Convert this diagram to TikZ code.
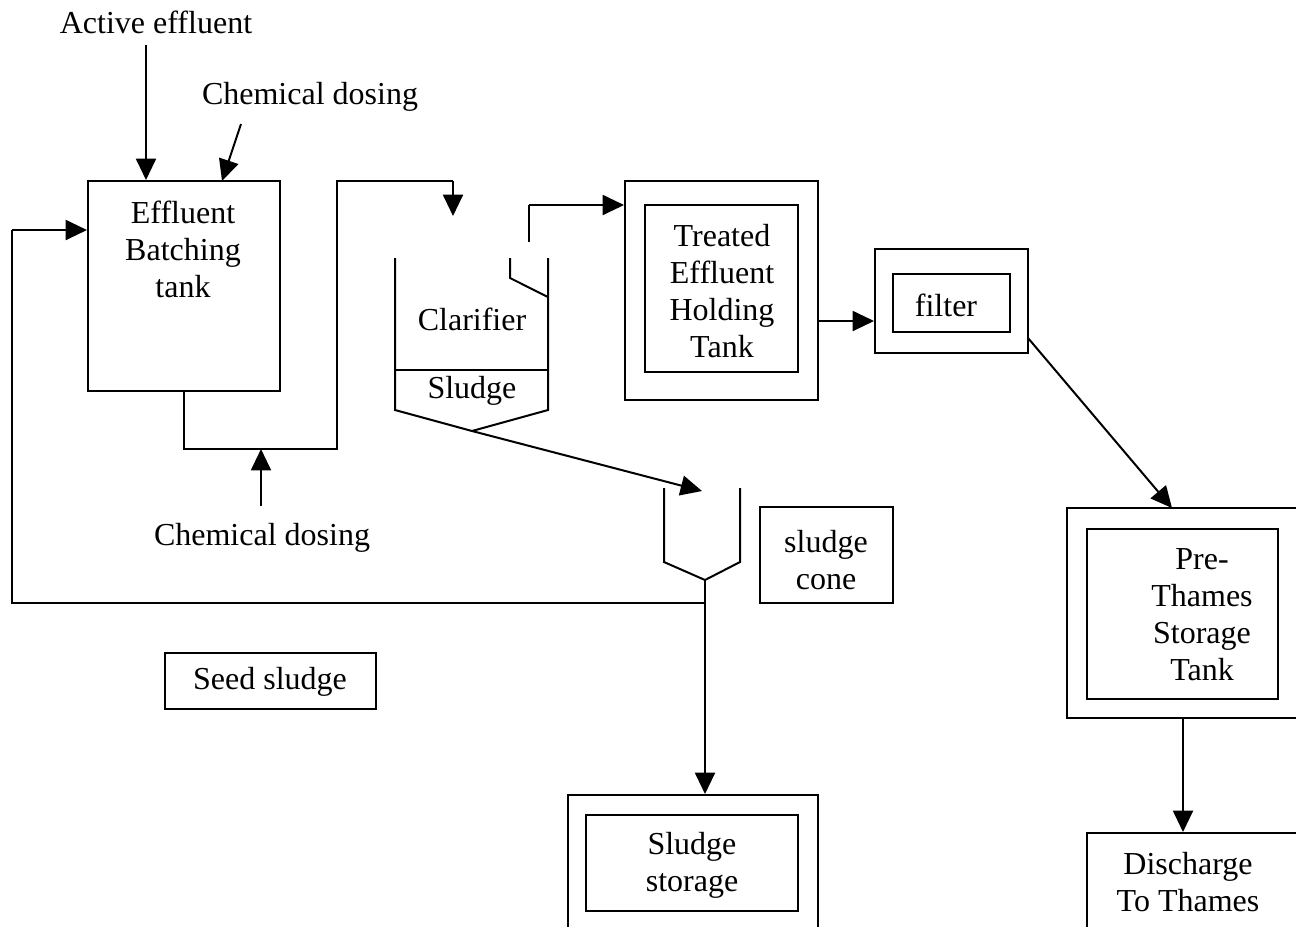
\documentclass[tikz,border=0pt]{standalone}
\usepackage{fontspec}
\setmainfont{Liberation Serif}
\usetikzlibrary{arrows.meta,fit,calc}
\begin{document}
\begin{tikzpicture}[x=0.75pt,y=-0.75pt,
  ln/.style={line width=1.5pt},
  arr/.style={ln,-{Triangle[length=16pt,width=15pt]}},
  box/.style={draw,line width=1.5pt,inner sep=0pt},
  txt/.style={font=\fontsize{24}{27.75}\selectfont, align=center, inner sep=0pt}]
\useasboundingbox (0,0) rectangle (1296,926);

% ---- boxes ----
\node[box, fit={(88,181) (280,391)}] (tank) {};
\node[box, fit={(625,181) (818,400)}] (holdout) {};
\node[box, fit={(645,205) (798,372)}] (holdin) {};
\node[box, fit={(875,249) (1028,353)}] (filtout) {};
\node[box, fit={(893,274) (1010,332)}] (filtin) {};
\node[box, fit={(1067,508) (1310,718)}] (preout) {};
\node[box, fit={(1087,529) (1278,699)}] (prein) {};
\node[box, fit={(1087,833) (1310,945)}] (disch) {};
\node[box, fit={(568,795) (818,945)}] (sstout) {};
\node[box, fit={(586,815) (798,911)}] (sstin) {};
\node[box, fit={(760,507) (893,603)}] (conebox) {};
\node[box, fit={(165,653) (376,709)}] (seed) {};

% ---- texts ----
\node[txt] (ae) at (156,22) {Active effluent};
\node[txt] (cd1) at (310,97) {Chemical dosing};
\node[txt] (cd2) at (262,538) {Chemical dosing};
\node[txt] (tanktxt) at (183,249) {Effluent\\Batching\\tank};
\node[txt] (holdtxt) at (722,291) {Treated\\Effluent\\Holding\\Tank};
\node[txt] (filttxt) at (946,305) {filter};
\node[txt] (pretxt) at (1202,615) {Pre-\\Thames\\Storage\\Tank};
\node[txt] (dischtxt) at (1188,882) {Discharge\\To Thames};
\node[txt] (ssttxt) at (692,865) {Sludge\\storage};
\node[txt] (conetxt) at (826,560) {sludge\\cone};
\node[txt] (seedtxt) at (270,682) {Seed sludge};
\node[txt] (clartxt) at (472,319) {Clarifier};
\node[txt] (sludgetxt) at (472,391) {Sludge};

% ---- clarifier shape ----
\coordinate (cTL) at (395,258);
\coordinate (cTR) at (548,258);
\coordinate (cML) at (395,370);
\coordinate (cMR) at (548,370);
\coordinate (cBL) at (395,410);
\coordinate (cBR) at (548,410);
\coordinate (cTip) at (472,431);
\draw[ln] (cTL) -- (cBL) -- (cTip) -- (cBR) -- (cTR);
\draw[ln] (cML) -- (cMR);
\coordinate (wT) at (510,258);
\coordinate (wB) at (510,278);
\coordinate (wR) at (548,297);
\draw[ln] (wT) -- (wB) -- (wR);

% ---- sludge cone shape ----
\coordinate (kTL) at (664,488);
\coordinate (kTR) at (740,488);
\coordinate (kBL) at (664,562);
\coordinate (kBR) at (740,562);
\coordinate (kTip) at (705,580);
\draw[ln] (kTL) -- (kBL) -- (kTip) -- (kBR) -- (kTR);

% ---- connectors ----
\coordinate (aeS) at (146,45);
\draw[arr] (aeS) -- (aeS |- tank.north);
\coordinate (cd1S) at (241,124);
\coordinate (cd1E) at (222,181);
\draw[arr] (cd1S) -- (cd1E);

% tank bottom to clarifier
\coordinate (tb) at (184,391);
\coordinate (tb1) at (184,449);
\coordinate (tb2) at (337,449);
\coordinate (tb3) at (337,181);
\coordinate (tb4) at (453,181);
\coordinate (tb5) at (453,216);
\draw[ln] (tb) -- (tb1) -- (tb2) -- (tb3) -- (tb4);
\draw[arr] (tb4) -- (tb5);

% chemical dosing bottom
\coordinate (cd2S) at (261,506);
\draw[arr] (cd2S) -- (cd2S |- tb1);

% clarifier outlet to holding tank
\coordinate (o1) at (529,242);
\coordinate (o2) at (529,205);
\draw[ln] (o1) -- (o2);
\draw[arr] (o2) -- (o2 -| holdout.west);

% clarifier tip to sludge cone
\coordinate (coneIn) at (702,491);
\draw[arr] (cTip) -- (coneIn);

% holding tank to filter
\coordinate (h1) at (818,321);
\draw[arr] (h1) -- (h1 -| filtout.west);

% filter to pre-thames
\coordinate (f1) at (1028,338);
\coordinate (f2) at (1172,508);
\draw[arr] (f1) -- (f2);

% pre-thames to discharge
\coordinate (p1) at (1183,718);
\draw[arr] (p1) -- (p1 |- disch.north);

% sludge cone down to storage, and recycle
\coordinate (j) at (705,603);
\draw[arr] (kTip) -- (kTip |- sstout.north);
\coordinate (r1) at (12,603);
\coordinate (r2) at (12,230);
\draw[ln] (j) -- (r1) -- (r2);
\draw[arr] (r2) -- (r2 -| tank.west);
\end{tikzpicture}
\end{document}
